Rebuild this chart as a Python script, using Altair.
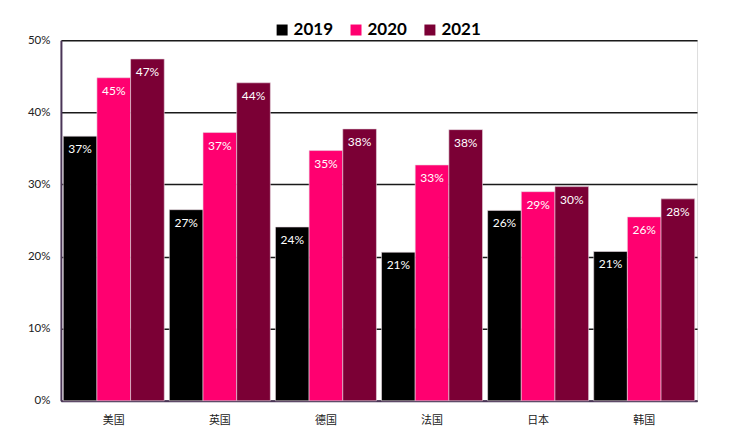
import altair as alt
import pandas as pd

countries = ["美国", "英国", "德国", "法国", "日本", "韩国"]
years = ["2019", "2020", "2021"]
v2019 = [36.7, 26.5, 24.1, 20.6, 26.4, 20.7]
v2020 = [44.8, 37.2, 34.7, 32.7, 29.0, 25.5]
v2021 = [47.4, 44.1, 37.7, 37.6, 29.7, 28.0]
l2019 = ["37%", "27%", "24%", "21%", "26%", "21%"]
l2020 = ["45%", "37%", "35%", "33%", "29%", "26%"]
l2021 = ["47%", "44%", "38%", "38%", "30%", "28%"]
colors = ["#000000", "#FF0070", "#7B0035"]

rows = []
for yr, vals, labs in zip(years, [v2019, v2020, v2021], [l2019, l2020, l2021]):
    for c, v, l in zip(countries, vals, labs):
        rows.append({"country": c, "year": yr, "value": v, "label": l})
df = pd.DataFrame(rows)

x = alt.X("country:N", sort=countries, title=None,
          scale=alt.Scale(paddingInner=0.048, paddingOuter=0.022),
          axis=alt.Axis(labelAngle=0, labelFont="Noto Sans CJK SC", labelFontSize=11,
                        labelColor="#222222", labelPadding=14, ticks=False,
                        domainColor="#4a3557", domainWidth=2))
xo = alt.XOffset("year:N", sort=years, scale=alt.Scale(paddingInner=0, paddingOuter=0))
y = alt.Y("value:Q", title=None,
          scale=alt.Scale(domain=[0, 50], nice=False),
          axis=alt.Axis(values=[0, 10, 20, 30, 40, 50], labelExpr="datum.value + '%'",
                        labelFont="Lato", labelFontSize=11.5, labelColor="#222222",
                        labelPadding=11, ticks=False, grid=True, gridColor="#1a1a1a",
                        gridWidth=1.5, domainColor="#4a3557", domainWidth=2))

color = alt.Color("year:N", sort=years,
                  scale=alt.Scale(domain=years, range=colors),
                  legend=alt.Legend(title=None, orient="none", direction="horizontal",
                                    legendX=213, legendY=-19, symbolType="square",
                                    symbolSize=121, symbolStrokeWidth=0,
                                    labelFont="Lato", labelFontSize=17,
                                    labelFontWeight="bold", labelColor="#000000",
                                    labelOffset=3, columnPadding=14))

bars = alt.Chart(df).mark_bar(stroke="#e8d8e0", strokeWidth=0.6).encode(
    x=x, xOffset=xo, y=y, color=color)

text = alt.Chart(df).mark_text(color="white", fontSize=12, font="Lato",
                               baseline="middle", dy=13).encode(
    x=alt.X("country:N", sort=countries),
    xOffset=alt.XOffset("year:N", sort=years),
    y="value:Q", text="label:N")

chart = alt.layer(bars, text).properties(
    width=637, height=361,
    autosize=alt.AutoSizeParams(type="none"),
    padding={"left": 53, "top": 32, "right": 30, "bottom": 30},
).configure_view(stroke=None).configure(background="white")

chart.save("out.html", embed_options={"renderer": "svg", "actions": False})
